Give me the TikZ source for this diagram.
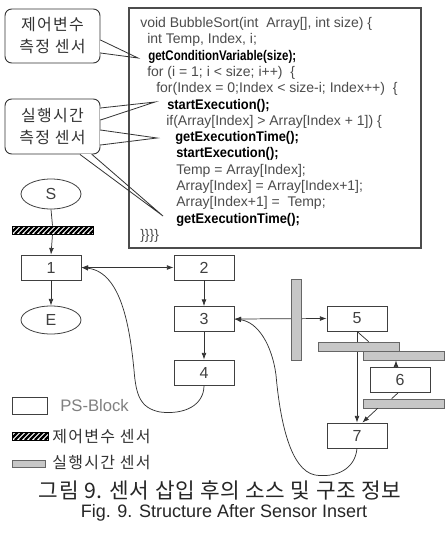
\documentclass[tikz,border=0pt]{standalone}
\usepackage{graphicx}
\usepackage{fontspec}
\setmainfont{Liberation Sans}
\newfontfamily\krfont{Noto Sans CJK KR}
\newfontfamily\krsp[LetterSpace=8]{Noto Sans CJK KR}
\newfontfamily\krcap[LetterSpace=3]{Noto Sans CJK KR}
\usetikzlibrary{arrows.meta,calc,shapes.geometric}
\tikzset{
  blk/.style={draw=black!75, line width=0.6pt, minimum width=45pt, minimum height=18.75pt, inner sep=0pt, font=\fontsize{12}{12}\selectfont, text=black!75},
  ell/.style={ellipse, draw=black!75, line width=0.6pt, minimum width=45pt, inner sep=0pt, font=\fontsize{12}{12}\selectfont, text=black!75},
  gbar/.style={draw=black!60, fill=black!22, line width=0.5pt, inner sep=0pt},
  hbar/.style={draw=black, line width=0.5pt, inner sep=0pt,
    path picture={\foreach \k in {-12,-7,...,100}{\draw[line width=1.7pt] ($(path picture bounding box.south west)+(\k,0)$) -- ++(10,-10);}}},
  con/.style={draw=black!80, line width=0.55pt},
  arr/.style={con, -{Latex[length=5pt,width=3.6pt]}},
  darr/.style={con, {Latex[length=5pt,width=3.6pt]}-{Latex[length=5pt,width=3.6pt]}},
  codeln/.style={anchor=base west, inner sep=0pt, font=\fontsize{10.5}{12}\selectfont, text=black!70},
  codebf/.style={codeln, text=black},
  cbox/.style={draw=black!80, line width=0.7pt, rounded corners=5pt, minimum width=71.25pt, align=center, inner sep=0pt, font=\krsp\fontsize{12}{16.5}\selectfont, text=black!80},
  wedge/.style={draw=black!80, line width=0.6pt},
}
\begin{document}
\begin{tikzpicture}[x=0.75pt,y=-0.75pt]
\useasboundingbox (0,0) rectangle (446,533);
\fill[white] (0,0) rectangle (446,533);

% code box
\node[draw=black!70, line width=0.8pt, minimum width=219pt, minimum height=180pt, inner sep=0pt] (code) at (275,128) {};
\node[codeln] (c0) at (140,27.5) {void BubbleSort(int\ \ Array[], int size) \{};
\node[codeln] (c1) at (147,43.8) {int Temp, Index, i;};
\node[codebf] (c2) at (148,60.1) {\scalebox{0.82}[1]{\bfseries getConditionVariable(size);}};
\node[codeln] (c3) at (147,76.4) {for (i = 1; i < size; i++) \ \{};
\node[codeln] (c4) at (156,92.7) {for(Index = 0;Index < size-i; Index++) \ \{};
\node[codebf] (c5) at (167,109.0) {\scalebox{0.92}[1]{\bfseries startExecution();}};
\node[codeln] (c6) at (166,125.3) {if(Array[Index] > Array[Index + 1]) \{};
\node[codebf] (c7) at (175,141.6) {\scalebox{0.92}[1]{\bfseries getExecutionTime();}};
\node[codebf] (c8) at (176,157.9) {\scalebox{0.92}[1]{\bfseries startExecution();}};
\node[codeln] (c9) at (176,174.2) {Temp = Array[Index];};
\node[codeln] (c10) at (176,190.5) {Array[Index] = Array[Index+1];};
\node[codeln] (c11) at (176,206.8) {Array[Index+1] = \ Temp;};
\node[codebf] (c12) at (176,223.1) {\scalebox{0.92}[1]{\bfseries getExecutionTime();}};
\node[codeln] (c13) at (140,239.4) {\}\}\}\}};

% callouts
\node[cbox, minimum height=40.5pt] (co1) at (52.5,36) {제어변수\\측정 센서};
\node[cbox, minimum height=41.25pt] (co2) at (52.5,126.5) {실행시간\\측정 센서};
\coordinate (t1) at (138,58);
\coordinate (t2) at (155,102);
\coordinate (t3) at (157,138);
\coordinate (t4) at (163,216);
\draw[white, line width=1.4pt] ($(co1.east)+(0,5)$) -- ($(co1.east)+(0,16)$);
\draw[wedge] ($(co1.east)+(0,4)$) -- (t1) -- ($(co1.east)+(0,17)$);
\draw[white, line width=1.4pt] ($(co2.east)+(0,-17.5)$) -- ($(co2.east)+(0,-7.5)$);
\draw[wedge] ($(co2.east)+(0,-18.5)$) -- (t2) -- ($(co2.east)+(0,-6.5)$);
\draw[white, line width=1.4pt] ($(co2.east)+(0,4.5)$) -- ($(co2.east)+(0,17.5)$);
\draw[wedge] ($(co2.east)+(0,3.5)$) -- (t3) -- ($(co2.east)+(0,18.5)$);
\draw[white, line width=1.4pt] ($(co2.south)+(28.5,0)$) -- ($(co2.south)+(38.5,0)$);
\draw[wedge] ($(co2.south)+(27.5,0)$) -- (t4) -- ($(co2.south)+(39.5,0)$);

% flow structure
\node[ell, minimum height=22.5pt] (S) at (51,194) {S};
\node[hbar, minimum width=60.75pt, minimum height=6pt] (h0) at (52.5,230) {};
\node[blk] (b1) at (51,267.5) {1};
\node[ell, minimum height=21pt] (E) at (51,320) {E};
\node[blk] (b2) at (204,267.5) {2};
\node[blk] (b3) at (204,319) {3};
\node[blk] (b4) at (204,372.5) {4};
\node[blk] (b5) at (357,318.5) {5};
\node[blk] (b6) at (400,380) {6};
\node[blk] (b7) at (357,435.5) {7};

\draw[con] (S.south) -- (h0.north);
\draw[arr] (h0.south) -- (b1.north);
\draw[arr] (b1.south) -- (E.north);
\draw[darr] (b1.east) -- (b2.west);
\draw[arr] (b2.south) -- (b3.north);
\draw[arr] (b3.south) -- (b4.north);
\draw[darr] (b3.east) -- (b5.west);
\draw[arr] (b5.south) -- (b7.north);

% curved back edges
\draw[arr] (b4.south) .. controls (204,405) and (185,415) .. (160,412)
  .. controls (140,408) and (136,395) .. (134,370)
  .. controls (130,330) and (122,272) .. (b1.east);
\draw[arr] (b7.south) .. controls (355,470) and (335,478) .. (315,475)
  .. controls (290,470) and (280,420) .. (276,375)
  .. controls (272,345) and (258,322) .. (b3.east);

% sensors (grey bars)
\node[gbar, minimum width=7.5pt, minimum height=60.75pt] (vb) at (296,319.5) {};
\node[gbar, minimum width=60.75pt, minimum height=6.75pt] (ba) at (358.5,346.5) {};
\node[gbar, minimum width=60.75pt, minimum height=6.75pt] (bb) at (403.5,355.5) {};
\node[gbar, minimum width=60.75pt, minimum height=6.75pt] (bc) at (403.5,403.5) {};

\coordinate (d1) at ($(ba.north west)+(51,0)$);
\draw[con] (b5.south) -- (d1);
\draw[arr] ([xshift=-3pt]b6.north) -- ([xshift=-3pt]b6.north |- bb.south);
\coordinate (d2) at ($(bc.north west)+(29,0)$);
\draw[con] ([xshift=-1.5pt]b6.south) -- (d2);
\coordinate (d3) at ($(bc.south west)+(15,0)$);
\draw[arr] (d3) -- ([xshift=4pt]b7.north);

% legend
\node[draw=black!75, line width=0.6pt, minimum width=26.25pt, minimum height=12.75pt, inner sep=0pt] (lg1) at (29.5,405.5) {};
\node[anchor=west, inner sep=0pt, font=\fontsize{12.5}{12.5}\selectfont, text=black!50] (lt1) at (60,405.5) {PS-Block};
\node[hbar, minimum width=27pt, minimum height=6pt] (lg2) at (30,436) {};
\node[anchor=west, inner sep=0pt, font=\krsp\fontsize{12}{12}\selectfont, text=black!80] (lt2) at (52,437) {제어변수 센서};
\node[gbar, minimum width=24.75pt, minimum height=5.25pt] (lg3) at (28.5,463.5) {};
\node[anchor=west, inner sep=0pt, font=\krsp\fontsize{12}{12}\selectfont, text=black!80] (lt3) at (52,463) {실행시간 센서};

% captions
\node[inner sep=0pt, font=\krcap\fontsize{16}{16}\selectfont, text=black!85] (cap1) at (220,490) {그림 9. 센서 삽입 후의 소스 및 구조 정보};
\node[inner sep=0pt, font=\fontsize{13.5}{13.5}\selectfont, text=black!85] (cap2) at (224,513) {Fig. 9. Structure After Sensor Insert};
\end{tikzpicture}
\end{document}
